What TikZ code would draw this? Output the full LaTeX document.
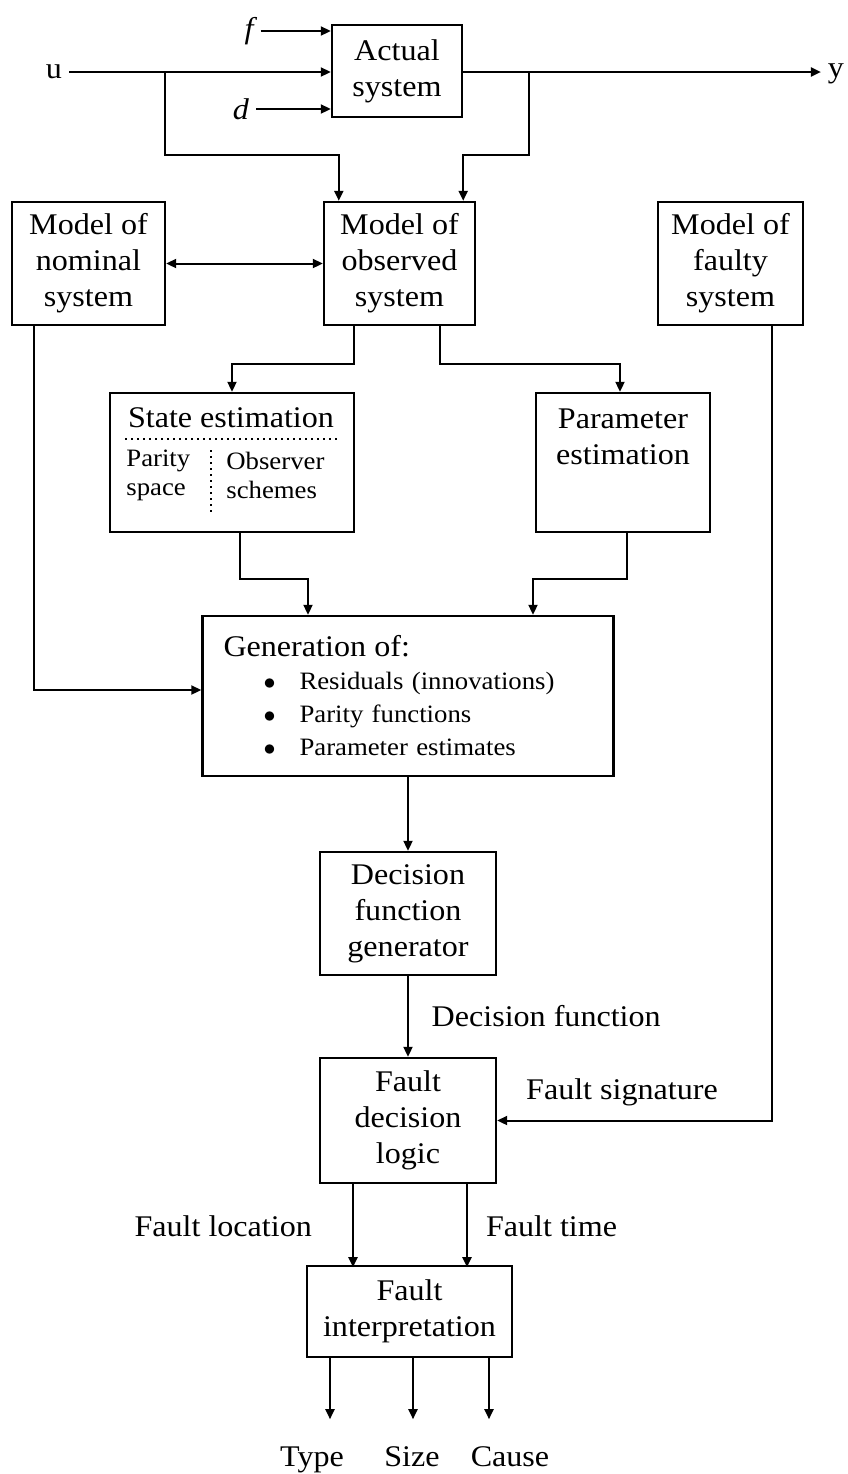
\documentclass[tikz,border=0pt]{standalone}
\usepackage{fontspec}
\setmainfont{Liberation Serif}[FakeStretch=1.07]
\usetikzlibrary{arrows.meta,positioning,calc}
\newcommand{\bigdot}{\hspace*{20pt}\makebox[18pt][l]{$\bullet$}}

\begin{document}
\begin{tikzpicture}[x=0.5pt,y=-0.5pt,
  every node/.style={font=\fontsize{15}{18}\selectfont},
  blk/.style={draw,line width=1.2pt,inner sep=0pt,align=center},
  sml/.style={font=\fontsize{12.5}{14.5}\selectfont,align=left,inner sep=0pt},
  ar/.style={-{Triangle[length=5pt,width=4.5pt]},line width=1pt},
  ar2/.style={{Triangle[length=5pt,width=4.5pt]}-{Triangle[length=5pt,width=4.5pt]},line width=1pt}]
\useasboundingbox (0,0) rectangle (847,1474);

\node[blk,minimum width=65pt,minimum height=46pt] (act) at (397,71) {Actual\\system};
\node (u) at (54,72) {u};
\node (yout) at (836,74) {y};
\node (f) at (249,31) {\itshape f};
\node (d) at (241,109) {\itshape d};

\node[blk,minimum width=76.5pt,minimum height=61.5pt] (nom) at (88.5,263.5) {Model of\\nominal\\system};
\node[blk,minimum width=75.5pt,minimum height=61.5pt] (obs) at (399.5,263.5) {Model of\\observed\\system};
\node[blk,minimum width=72.5pt,minimum height=61.5pt] (fty) at (730.5,263.5) {Model of\\faulty\\system};

\node[blk,minimum width=122pt,minimum height=69.5pt] (st) at (232,462.5) {};
\node (sttl) at (231,418) {State estimation};
\node[sml,anchor=west] (pty) at (126,475.5) {Parity\\space};
\node[sml,anchor=west] (obsv) at (226,475.5) {Observer\\schemes};
\draw[dotted,line width=1pt] (125,439) -- (339,439) (211,450) -- (211,513);

\node[blk,minimum width=87pt,minimum height=69.5pt] (par) at (623,462.5) {};
\node[align=center] (partxt) at ([yshift=12.75pt]par.center) {Parameter\\estimation};

\node[blk,align=left,text width=184.5pt,inner xsep=10.5pt,minimum height=80pt,
  font=\fontsize{12.5}{16.5}\selectfont] (gen) at (408,696)
  {{\fontsize{15}{16.5}\selectfont Generation of:}\\
   \bigdot Residuals (innovations)\\
   \bigdot Parity functions\\
   \bigdot Parameter estimates};

\node[blk,minimum width=88pt,minimum height=61.5pt] (dfg) at (408,913.5) {Decision\\function\\generator};
\node[blk,minimum width=88pt,minimum height=62.5pt] (fdl) at (408,1120.5) {Fault\\decision\\logic};
\node[blk,minimum width=102.5pt,minimum height=45.5pt] (fin) at (409.5,1311.5) {Fault\\interpretation};

\node (lsig) at (622,1092) {Fault signature};
\node[anchor=east] (lloc) at (319,1226) {Fault location};
\node[anchor=west] (ltime) at (479,1226) {Fault time};
\node[anchor=base] (otype) at (312,1466) {Type};
\node[anchor=base] (osize) at (412,1466) {Size};
\node[anchor=base] (ocause) at (510,1466) {Cause};

\coordinate (ubr) at (165,72);
\coordinate (ybr) at (529,72);
\draw[ar] (u) -- (u -| act.west);
\draw[ar] (f) -- (f -| act.west);
\draw[ar] (d) -- (d -| act.west);
\draw[ar] (act.east |- u) -- (yout.west |- u);
\draw[ar] (ubr) -- ++(0,83) -| ([xshift=8pt]obs.north west);
\draw[ar] (ybr) -- ++(0,83) -| ([xshift=-6.5pt]obs.north east);
\draw[ar2] (nom) -- (obs);
\draw[ar] ([xshift=15.5pt]obs.south west) -- ++(0,38) -| (st.north);
\draw[ar] ([xshift=-18pt]obs.south east) -- ++(0,38) -| ([xshift=-1.5pt]par.north);
\draw[ar] ([xshift=4pt]st.south) -- ++(0,46) -| ([xshift=-50pt]gen.north);
\draw[ar] ([xshift=2pt]par.south) -- ++(0,46) -| ([xshift=62.5pt]gen.north);
\draw[ar] ([xshift=11.5pt]nom.south west) |- ([yshift=3pt]gen.west);
\draw[ar] (gen) -- (dfg);
\draw[ar] (dfg) -- node[right=8pt] (ldec) {Decision function} (fdl);
\draw[ar] ([xshift=20.75pt]fty.south) |- (fdl.east);
\draw[ar] ([xshift=-27.5pt]fdl.south) -- ++(0,83);
\draw[ar] ([xshift=29.5pt]fdl.south) -- ++(0,83);
\foreach \s in {-39.75,1.75,39.75}
  \draw[ar] ([xshift=\s pt]fin.south) -- ++(0,61);
\end{tikzpicture}
\end{document}
